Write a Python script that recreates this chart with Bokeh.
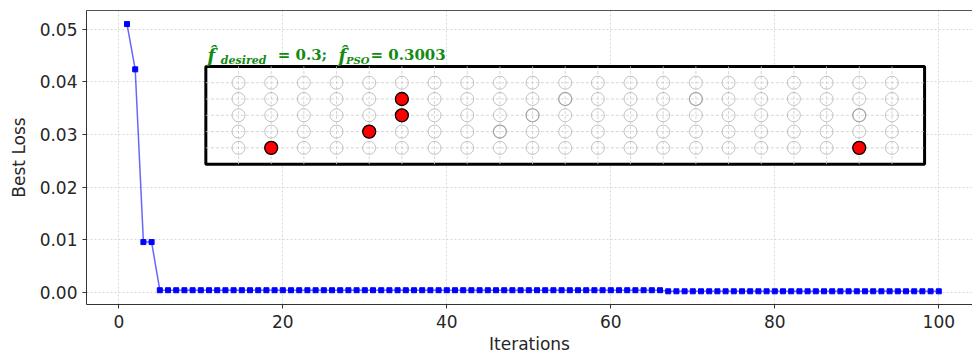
from bokeh.plotting import figure
from bokeh.models import Range1d, LinearAxis, Label, FixedTicker, NumeralTickFormatter
from bokeh.embed import file_html
from bokeh.resources import INLINE

# ---- main series ----
iterations = list(range(1, 101))
best_loss = [
    0.0510, 0.0424, 0.0096, 0.0096, 0.00045, 0.00045, 0.00045, 0.00045, 0.00045, 0.00045,
    0.00045, 0.00045, 0.00045, 0.00045, 0.00045, 0.00045, 0.00045, 0.00045, 0.00045, 0.00045,
    0.00045, 0.00045, 0.00045, 0.00045, 0.00045, 0.00045, 0.00045, 0.00045, 0.00045, 0.00045,
    0.00045, 0.00045, 0.00045, 0.00045, 0.00045, 0.00045, 0.00045, 0.00045, 0.00045, 0.00045,
    0.00045, 0.00045, 0.00045, 0.00045, 0.00045, 0.00045, 0.00045, 0.00045, 0.00045, 0.00045,
    0.00045, 0.00045, 0.00045, 0.00045, 0.00045, 0.00045, 0.00045, 0.00045, 0.00045, 0.00045,
    0.00045, 0.00045, 0.00045, 0.00045, 0.00045, 0.00045, 0.00025, 0.00025, 0.00025, 0.00025,
    0.00025, 0.00025, 0.00025, 0.00025, 0.00025, 0.00025, 0.00025, 0.00025, 0.00025, 0.00025,
    0.00025, 0.00025, 0.00025, 0.00025, 0.00025, 0.00025, 0.00025, 0.00025, 0.00025, 0.00025,
    0.00025, 0.00025, 0.00025, 0.00025, 0.00025, 0.00025, 0.00025, 0.00025, 0.00025, 0.00025,
]
x_ticks = [0, 20, 40, 60, 80, 100]
y_ticks = [0.00, 0.01, 0.02, 0.03, 0.04, 0.05]

# ---- inset: candidate grid and PSO selection ----
grid_cols = list(range(1, 22))
grid_rows = [1, 2, 3, 4, 5]
dark_cols = [9, 10, 11, 15, 20]
dark_rows = [2, 3, 4, 4, 3]
sel_cols = [2, 5, 6, 6, 20]
sel_rows = [1, 2, 3, 4, 1]
inset_xlim = (0, 22)
inset_ylim = (0, 6)
f_desired = "0.3"
f_pso = "0.3003"

TXT = "#262626"
FONT = "DejaVu Sans"

p = figure(width=972, height=356, output_backend="svg", toolbar_location=None,
           x_range=Range1d(-3.94, 104.11), y_range=Range1d(-0.00226, 0.05358),
           min_border_left=86, min_border_right=0, min_border_top=10, min_border_bottom=50,
           x_axis_label="Iterations", y_axis_label="Best Loss")
p.outline_line_color = None
p.background_fill_color = "white"
p.border_fill_color = "white"

xax = p.below[0]
yax = p.left[0]
for ax in (xax, yax):
    ax.axis_line_color = "#333333"
    ax.major_tick_line_color = "#333333"
    ax.major_tick_out = 4
    ax.major_tick_in = 0
    ax.minor_tick_line_color = None
    ax.major_label_text_font = FONT
    ax.major_label_text_font_size = "17px"
    ax.major_label_text_color = TXT
    ax.axis_label_text_font = FONT
    ax.axis_label_text_font_size = "17px"
    ax.axis_label_text_font_style = "normal"
    ax.axis_label_text_color = TXT
xax.ticker = FixedTicker(ticks=x_ticks)
yax.ticker = FixedTicker(ticks=y_ticks)
yax.formatter = NumeralTickFormatter(format="0.00")
xax.major_label_standoff = 6
xax.axis_label_standoff = 3
yax.major_label_standoff = 5
yax.axis_label_standoff = 8

# top spine
top = LinearAxis(ticker=FixedTicker(ticks=[]), major_label_text_font_size="0px",
                 axis_line_color="#555555", major_tick_line_color=None, minor_tick_line_color=None,
                 major_label_standoff=0)
p.add_layout(top, "above")

for g in (p.xgrid[0], p.ygrid[0]):
    g.grid_line_color = "#d8d8d8"
    g.grid_line_dash = "2 2"
    g.grid_line_width = 1

p.line(iterations, best_loss, line_color="blue", line_alpha=0.6, line_width=1.5)
p.scatter(iterations, best_loss, marker="square", size=5, fill_color="blue", line_color="blue")

# ---- inset drawn through its own ranges ----
p.extra_x_ranges["inset"] = Range1d(-3.653, 23.467)
p.extra_y_ranges["inset"] = Range1d(-8.616, 9.433)
IX = dict(x_range_name="inset", y_range_name="inset")

p.quad(left=[inset_xlim[0]], right=[inset_xlim[1]], bottom=[inset_ylim[0]], top=[inset_ylim[1]],
       fill_color="white", line_color="black", line_width=3, **IX)
p.segment(x0=[inset_xlim[0]] * len(grid_rows), x1=[inset_xlim[1]] * len(grid_rows),
          y0=grid_rows, y1=grid_rows, line_color="#cccccc", line_dash="3 2", line_width=0.8, **IX)
p.segment(x0=grid_cols, x1=grid_cols, y0=[inset_ylim[0]] * len(grid_cols),
          y1=[inset_ylim[1]] * len(grid_cols), line_color="#cccccc", line_dash="3 2", line_width=0.8, **IX)

gx = [c for r in grid_rows for c in grid_cols]
gy = [r for r in grid_rows for c in grid_cols]
p.scatter(gx, gy, marker="circle", size=13, fill_color=None, line_color="#b4b4b4",
          line_alpha=0.8, line_width=1, **IX)
p.scatter(dark_cols, dark_rows, marker="circle", size=13, fill_color=None, line_color="#9a9a9a",
          line_alpha=0.8, line_width=1.1, **IX)
p.scatter(sel_cols, sel_rows, marker="circle", size=13, fill_color="red", line_color="black",
          line_width=1.3, **IX)

GREEN = "#138a13"
SERIF = "DejaVu Serif"
pieces = [
    ("f\u0302", 0.05, 6.68, "18px", "bold italic"),
    ("desired", 0.46, 6.36, "11px", "bold italic"),
    ("= " + f_desired + ";", 2.2, 6.68, "15px", "bold"),
    ("f\u0302", 4.06, 6.68, "18px", "bold italic"),
    ("PSO", 4.29, 6.36, "10px", "bold italic"),
    ("= " + f_pso, 5.04, 6.68, "15px", "bold"),
]
for t, x, y, fs, st in pieces:
    p.add_layout(Label(x=x, y=y, text=t, text_color=GREEN, text_font=SERIF, text_font_size=fs,
                       text_font_style=st, text_baseline="alphabetic", text_align="left", **IX))

open("out.html", "w").write(file_html(p, INLINE))
